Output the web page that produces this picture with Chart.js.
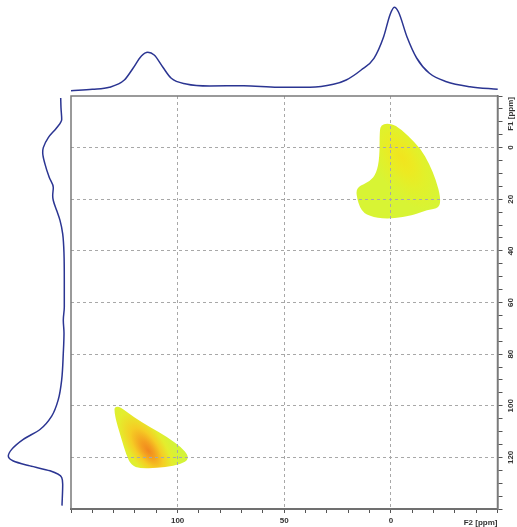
<!DOCTYPE html>
<html><head><meta charset="utf-8">
<script src="https://cdn.jsdelivr.net/npm/chart.js@4/dist/chart.umd.min.js"></script>
<style>
html,body{margin:0;padding:0;background:#fff;width:517px;height:527px;overflow:hidden}
canvas{position:absolute;left:0;top:0}
</style></head><body>
<canvas id="main" width="517" height="527"></canvas>
<canvas id="top" width="517" height="96"></canvas>
<canvas id="left" width="71" height="527"></canvas>
<script>
// ---- Axis ranges / tick labels (ppm) ----
const F2_RANGE = [-50, 150];
const F1_RANGE = [-20, 140];
const F2_LABELS = [100, 50, 0];
const F1_LABELS = [0, 20, 40, 60, 80, 100, 120];
const F2_TITLE = 'F2 [ppm]';
const F1_TITLE = 'F1 [ppm]';

// ---- F2 projection (top trace) ----
const topF2 = [150,140,132,125,121,117,114,111,107,103,96,85,69,53,38,27,21,14,8,3.5,0.5,-1.5,-3.5,-7.5,-12,-18,-26,-37,-50];
const topInt = [1.3,2.7,4.7,12,23.5,36,39.7,37,25,13.7,8,6,6.3,4.7,4.7,7.7,12,22,33.7,55,77,84.7,80,55,34,18.7,10.3,5.3,2.7];

// ---- F1 projection (left trace) ----
const leftF1 = [-19.2,-15.4,-10.9,-7.7,-3.9,0,1.9,6.4,11.6,15.4,18.6,20.5,24.4,28.2,33.4,41.1,51.4,61.7,66.8,71.9,79.6,89.9,97.6,104,109.2,113,116.9,119.5,121.4,123.3,125.2,127.8,130.4,138.7];
const leftInt = [7.3,7,6.3,11.3,19.7,24.7,25.3,23,18.7,14.7,15.3,14.7,11.3,8,5.3,4,3.7,3.7,4.7,4,4.7,6.3,9.7,16.3,28,44.7,56.3,59.7,54.7,38,18,6.3,5.3,6];

// ---- Cross-peak 1 (F2 ~ -3 ppm, F1 ~ 4 ppm): outline F2 / F1 ----
const peak1F2 = [4.5,1.9,-2.2,-7.8,-14.0,-18.0,-21.2,-23.3,-22.8,-17.0,-10.6,-0.5,8.4,14.0,16.4,15.6,9.9,6.8,5.3,5.3];
const peak1F1 = [-8.8,-9.4,-8.8,-4.8,0.4,6.2,12.6,19.3,23.5,24.1,26.1,27.6,27.1,24.8,18.0,15.2,13.2,10.0,3.9,-6.6];
const peak1Max = [-5.2, 3.9];

// ---- Cross-peak 2 (F2 ~ 114 ppm, F1 ~ 118 ppm) ----
const peak2F2 = [129.6,126.9,120.6,112.8,105.0,98.4,94.8,96.0,101.9,109.7,117.5,121.8,124.1,126.5,128.8,129.6];
const peak2F1 = [100.4,100.4,104.4,108.3,112.1,115.9,119.5,121.8,123.3,124.1,124.3,123.1,119.0,112.4,106.0,102.5];
const peak2Max = [113.6, 117.5];

const FONT = '"Liberation Sans", Arial, sans-serif';
const LINE = '#2b3592';
const GRID = '#a8a8a8';

function smoothPath(ctx, pts){
  const n = pts.length;
  const mid = (a,b)=>[(a[0]+b[0])/2,(a[1]+b[1])/2];
  ctx.beginPath();
  let m = mid(pts[n-1], pts[0]);
  ctx.moveTo(m[0], m[1]);
  for(let i=0;i<n;i++){
    const p = pts[i], q = pts[(i+1)%n];
    const mm = mid(p,q);
    ctx.quadraticCurveTo(p[0], p[1], mm[0], mm[1]);
  }
  ctx.closePath();
}

const blobPlugin = {
  id: 'blobs',
  beforeDraw(chart){
    const {ctx, chartArea:a, scales:{x, y}} = chart;
    const blobs = [
      {f2: peak1F2, f1: peak1F1, max: peak1Max, ang: 60, ratio: 0.5, off: 2, R: 55,
       stops: [[0,'rgb(241,228,30)'],[0.3,'rgb(236,234,34)'],[0.6,'rgb(226,240,42)'],[1,'rgb(216,244,52)']]},
      {f2: peak2F2, f1: peak2F1, max: peak2Max, ang: -125, ratio: 0.45, off: 8, R: 56,
       stops: [[0,'rgb(241,135,30)'],[0.18,'rgb(244,160,32)'],[0.42,'rgb(245,205,36)'],[0.7,'rgb(228,237,45)'],[1,'rgb(212,243,56)']]}
    ];
    ctx.save();
    ctx.beginPath(); ctx.rect(a.left, a.top, a.right-a.left, a.bottom-a.top); ctx.clip();
    blobs.forEach(b=>{
      const pts = b.f2.map((v,i)=>[x.getPixelForValue(v), y.getPixelForValue(b.f1[i])]);
      ctx.save();
      smoothPath(ctx, pts);
      const cx = x.getPixelForValue(b.max[0]), cy = y.getPixelForValue(b.max[1]);
      ctx.translate(cx, cy);
      ctx.rotate(b.ang*Math.PI/180);
      ctx.scale(1, b.ratio);
      const g = ctx.createRadialGradient(0,0,0, b.off,0,b.R);
      b.stops.forEach(s=>g.addColorStop(s[0], s[1]));
      ctx.fillStyle = g;
      ctx.fill();
      ctx.restore();
    });
    ctx.restore();
  },
  afterDraw(chart){
    const {ctx, chartArea:a, scales:{y}} = chart;
    ctx.save();
    ctx.strokeStyle = '#7a7a7a'; ctx.lineWidth = 1.5;
    ctx.strokeRect(a.left, a.top, a.right-a.left, a.bottom-a.top);
    ctx.fillStyle = '#333';
    ctx.font = 'bold 8px ' + FONT;
    ctx.textAlign = 'center'; ctx.textBaseline = 'middle';
    F1_LABELS.forEach(v=>{
      ctx.save();
      ctx.translate(510.5, y.getPixelForValue(v));
      ctx.rotate(-Math.PI/2);
      ctx.fillText(String(v), 0, 0);
      ctx.restore();
    });
    ctx.save();
    ctx.translate(510.5, a.top);
    ctx.rotate(-Math.PI/2);
    ctx.textAlign = 'right';
    ctx.fillText(F1_TITLE, -1, 0);
    ctx.restore();
    ctx.textAlign = 'right';
    ctx.fillText(F2_TITLE, a.right, 523);
    ctx.restore();
  }
};

new Chart(document.getElementById('main'), {
  type: 'scatter',
  data: {datasets: [{data: []}]},
  plugins: [blobPlugin],
  options: {
    responsive: false, animation: false, devicePixelRatio: 1,
    plugins: {legend: {display: false}, tooltip: {enabled: false}},
    layout: {padding: {left: 71, top: 96, right: 0, bottom: 0}},
    scales: {
      x: {
        type: 'linear', position: 'bottom', reverse: true,
        min: F2_RANGE[0], max: F2_RANGE[1],
        afterFit(s){ s.height = 18; },
        ticks: {stepSize: 10, autoSkip: false, maxRotation: 0, minRotation: 0, padding: 3,
          color: '#333', font: {size: 8, weight: 'bold', family: FONT},
          callback: v => F2_LABELS.includes(v) ? String(v) : ''},
        grid: {color: c => (c.tick && F2_LABELS.includes(c.tick.value)) ? GRID : 'rgba(0,0,0,0)',
          tickColor: '#555', tickLength: 4, lineWidth: 1},
        border: {color: '#555', width: 2, dash: [3, 3]}
      },
      y: {
        type: 'linear', position: 'right', reverse: true,
        min: F1_RANGE[0], max: F1_RANGE[1],
        afterFit(s){ s.width = 19.5; },
        ticks: {stepSize: 5, autoSkip: false, color: 'rgba(0,0,0,0)', font: {size: 8}},
        grid: {color: c => (c.tick && F1_LABELS.includes(c.tick.value)) ? GRID : 'rgba(0,0,0,0)',
          tickColor: '#555', tickLength: 5, lineWidth: 1},
        border: {color: '#555', width: 1.5, dash: [3, 3]}
      }
    }
  }
});

new Chart(document.getElementById('top'), {
  type: 'line',
  data: {datasets: [{data: topF2.map((v,i)=>({x: v, y: topInt[i]})), borderColor: LINE, borderWidth: 1.5,
    pointRadius: 0, cubicInterpolationMode: 'monotone', fill: false, clip: false}]},
  options: {
    responsive: false, animation: false, devicePixelRatio: 1,
    plugins: {legend: {display: false}, tooltip: {enabled: false}},
    layout: {padding: {left: 71, right: 19.3, top: 2, bottom: 4}},
    scales: {
      x: {type: 'linear', reverse: true, min: F2_RANGE[0], max: F2_RANGE[1], display: false},
      y: {type: 'linear', min: 0, max: 90, display: false}
    }
  }
});

new Chart(document.getElementById('left'), {
  type: 'line',
  data: {datasets: [{data: leftF1.map((v,i)=>({x: leftInt[i], y: v})), borderColor: LINE, borderWidth: 1.5,
    pointRadius: 0, cubicInterpolationMode: 'monotone', fill: false, clip: false}]},
  options: {
    indexAxis: 'y',
    responsive: false, animation: false, devicePixelRatio: 1,
    plugins: {legend: {display: false}, tooltip: {enabled: false}},
    layout: {padding: {left: 5, right: 3, top: 96, bottom: 18}},
    scales: {
      x: {type: 'linear', reverse: true, min: 0, max: 63, display: false},
      y: {type: 'linear', reverse: true, min: F1_RANGE[0], max: F1_RANGE[1], display: false}
    }
  }
});
</script>
</body></html>
